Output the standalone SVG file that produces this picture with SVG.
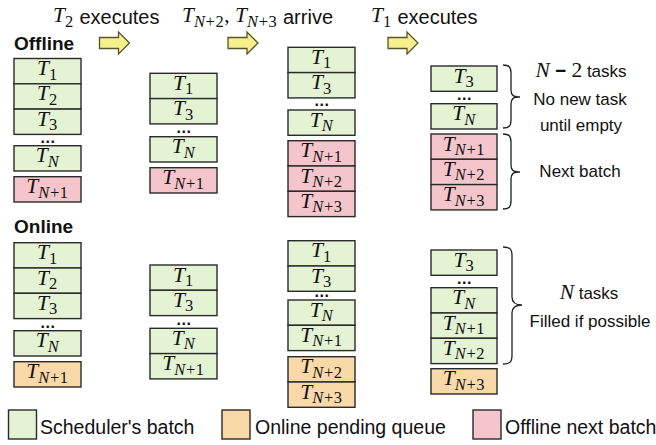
<svg xmlns="http://www.w3.org/2000/svg" width="656" height="445" viewBox="0 0 656 445">
<defs>
<style>
.b{stroke:#2a2a2a;stroke-width:1.4}
.g{fill:#e3f3d3}
.p{fill:#f4c6cc}
.o{fill:#fad9a8}
.m{font-family:"Liberation Serif","DejaVu Serif",serif;font-size:21.5px;fill:#111;text-anchor:middle}
.ml{font-family:"Liberation Serif","DejaVu Serif",serif;font-size:21.5px;fill:#111}
.i{font-style:italic}
.s{font-size:16.5px;letter-spacing:0.6px}
.d{font-family:"Liberation Sans",Arial,sans-serif;font-weight:bold;font-size:16px;letter-spacing:0.5px;fill:#111;text-anchor:middle}
.t{font-family:"Liberation Sans",Arial,sans-serif;font-size:20px;letter-spacing:0;fill:#111}
.h{font-family:"Liberation Sans",Arial,sans-serif;font-weight:bold;font-size:19px;fill:#111}
.r{font-family:"Liberation Sans",Arial,sans-serif;font-size:17px;fill:#111;text-anchor:middle}
.l{font-family:"Liberation Sans",Arial,sans-serif;font-size:19.5px;fill:#111}
.ar{fill:#f6f08c;stroke:#55552a;stroke-width:1.3}
.br{fill:none;stroke:#222;stroke-width:1.3}
</style>
</defs>

<!-- headings -->
<g id="heading-labels">
<text class="h" x="14" y="50">Offline</text>
<text class="h" x="14" y="233">Online</text>
<text class="ml" x="53" y="21.5"><tspan class="i">T</tspan><tspan class="s" dy="5">2</tspan><tspan class="t" dy="-3"> executes</tspan></text>
<text class="ml" x="182" y="21.5"><tspan class="i">T</tspan><tspan class="s" dy="5"><tspan class="i">N</tspan>+2</tspan><tspan dy="-5">, </tspan><tspan class="i">T</tspan><tspan class="s" dy="5"><tspan class="i">N</tspan>+3</tspan><tspan class="t" dy="-3"> arrive</tspan></text>
<text class="ml" x="371" y="21.5"><tspan class="i">T</tspan><tspan class="s" dy="5">1</tspan><tspan class="t" dy="-3"> executes</tspan></text>
</g>

<!-- arrows -->
<g id="step-arrows">
<path class="ar" d="M99.5,37.5 H118.5 V32 L129.5,43 L118.5,54 V48.5 H99.5 Z"/>
<path class="ar" d="M228,37.5 H247 V32 L258,43 L247,54 V48.5 H228 Z"/>
<path class="ar" d="M388,37.5 H407 V32 L418,43 L407,54 V48.5 H388 Z"/>
</g>

<!-- OFFLINE column 1 -->
<g id="off1-T1"><rect class="b g" x="14" y="58.5" width="67" height="25.3"/><text class="m" x="47.5" y="75"><tspan class="i">T</tspan><tspan class="s" dy="4.5">1</tspan></text></g>
<g id="off1-T2"><rect class="b g" x="14" y="83.8" width="67" height="25.3"/><text class="m" x="47.5" y="100.3"><tspan class="i">T</tspan><tspan class="s" dy="4.5">2</tspan></text></g>
<g id="off1-T3"><rect class="b g" x="14" y="109.1" width="67" height="25.3"/><text class="m" x="47.5" y="125.6"><tspan class="i">T</tspan><tspan class="s" dy="4.5">3</tspan></text></g>
<g id="off1-dots"><text class="d" x="48" y="142.5">...</text></g>
<g id="off1-TN"><rect class="b g" x="14" y="145.7" width="67" height="25.3"/><text class="m" x="47.5" y="162.2"><tspan class="i">T</tspan><tspan class="s i" dy="4.5">N</tspan></text></g>
<g id="off1-TN1"><rect class="b p" x="14" y="176.7" width="67" height="25.3"/><text class="m" x="47.5" y="193.2"><tspan class="i">T</tspan><tspan class="s" dy="4.5"><tspan class="i">N</tspan>+1</tspan></text></g>

<!-- OFFLINE column 2 -->
<g id="off2-T1"><rect class="b g" x="150" y="73.3" width="67" height="25.3"/><text class="m" x="183.5" y="89.8"><tspan class="i">T</tspan><tspan class="s" dy="4.5">1</tspan></text></g>
<g id="off2-T3"><rect class="b g" x="150" y="98.6" width="67" height="25.3"/><text class="m" x="183.5" y="115.1"><tspan class="i">T</tspan><tspan class="s" dy="4.5">3</tspan></text></g>
<g id="off2-dots"><text class="d" x="184" y="133">...</text></g>
<g id="off2-TN"><rect class="b g" x="150" y="136.7" width="67" height="25.3"/><text class="m" x="183.5" y="153.2"><tspan class="i">T</tspan><tspan class="s i" dy="4.5">N</tspan></text></g>
<g id="off2-TN1"><rect class="b p" x="150" y="167.7" width="67" height="25.3"/><text class="m" x="183.5" y="184.2"><tspan class="i">T</tspan><tspan class="s" dy="4.5"><tspan class="i">N</tspan>+1</tspan></text></g>

<!-- OFFLINE column 3 -->
<g id="off3-T1"><rect class="b g" x="288" y="47.3" width="67" height="25.3"/><text class="m" x="321.5" y="63.8"><tspan class="i">T</tspan><tspan class="s" dy="4.5">1</tspan></text></g>
<g id="off3-T3"><rect class="b g" x="288" y="72.6" width="67" height="25.3"/><text class="m" x="321.5" y="89.1"><tspan class="i">T</tspan><tspan class="s" dy="4.5">3</tspan></text></g>
<g id="off3-dots"><text class="d" x="322" y="105.5">...</text></g>
<g id="off3-TN"><rect class="b g" x="288" y="110" width="67" height="25.3"/><text class="m" x="321.5" y="126.5"><tspan class="i">T</tspan><tspan class="s i" dy="4.5">N</tspan></text></g>
<g id="off3-TN1"><rect class="b p" x="288" y="140.7" width="67" height="25.3"/><text class="m" x="321.5" y="157.2"><tspan class="i">T</tspan><tspan class="s" dy="4.5"><tspan class="i">N</tspan>+1</tspan></text></g>
<g id="off3-TN2"><rect class="b p" x="288" y="166" width="67" height="25.3"/><text class="m" x="321.5" y="182.5"><tspan class="i">T</tspan><tspan class="s" dy="4.5"><tspan class="i">N</tspan>+2</tspan></text></g>
<g id="off3-TN3"><rect class="b p" x="288" y="191.3" width="67" height="25.3"/><text class="m" x="321.5" y="207.8"><tspan class="i">T</tspan><tspan class="s" dy="4.5"><tspan class="i">N</tspan>+3</tspan></text></g>

<!-- OFFLINE column 4 -->
<g id="off4-T3"><rect class="b g" x="431" y="66" width="66" height="25.3"/><text class="m" x="464" y="82.5"><tspan class="i">T</tspan><tspan class="s" dy="4.5">3</tspan></text></g>
<g id="off4-dots"><text class="d" x="464.5" y="99.5">...</text></g>
<g id="off4-TN"><rect class="b g" x="431" y="103.7" width="66" height="25.3"/><text class="m" x="464" y="120.2"><tspan class="i">T</tspan><tspan class="s i" dy="4.5">N</tspan></text></g>
<g id="off4-TN1"><rect class="b p" x="431" y="134" width="66" height="25.3"/><text class="m" x="464" y="150.5"><tspan class="i">T</tspan><tspan class="s" dy="4.5"><tspan class="i">N</tspan>+1</tspan></text></g>
<g id="off4-TN2"><rect class="b p" x="431" y="159.3" width="66" height="25.3"/><text class="m" x="464" y="175.8"><tspan class="i">T</tspan><tspan class="s" dy="4.5"><tspan class="i">N</tspan>+2</tspan></text></g>
<g id="off4-TN3"><rect class="b p" x="431" y="184.6" width="66" height="25.3"/><text class="m" x="464" y="201.1"><tspan class="i">T</tspan><tspan class="s" dy="4.5"><tspan class="i">N</tspan>+3</tspan></text></g>

<!-- ONLINE column 1 -->
<g id="on1-T1"><rect class="b g" x="14" y="242.7" width="67" height="25.3"/><text class="m" x="47.5" y="259.2"><tspan class="i">T</tspan><tspan class="s" dy="4.5">1</tspan></text></g>
<g id="on1-T2"><rect class="b g" x="14" y="268" width="67" height="25.3"/><text class="m" x="47.5" y="284.5"><tspan class="i">T</tspan><tspan class="s" dy="4.5">2</tspan></text></g>
<g id="on1-T3"><rect class="b g" x="14" y="293.3" width="67" height="25.3"/><text class="m" x="47.5" y="309.8"><tspan class="i">T</tspan><tspan class="s" dy="4.5">3</tspan></text></g>
<g id="on1-dots"><text class="d" x="48" y="327.5">...</text></g>
<g id="on1-TN"><rect class="b g" x="14" y="330.7" width="67" height="25.3"/><text class="m" x="47.5" y="347.2"><tspan class="i">T</tspan><tspan class="s i" dy="4.5">N</tspan></text></g>
<g id="on1-TN1"><rect class="b o" x="14" y="361.7" width="67" height="25.3"/><text class="m" x="47.5" y="378.2"><tspan class="i">T</tspan><tspan class="s" dy="4.5"><tspan class="i">N</tspan>+1</tspan></text></g>

<!-- ONLINE column 2 -->
<g id="on2-T1"><rect class="b g" x="150" y="265" width="67" height="25.3"/><text class="m" x="183.5" y="281.5"><tspan class="i">T</tspan><tspan class="s" dy="4.5">1</tspan></text></g>
<g id="on2-T3"><rect class="b g" x="150" y="290.3" width="67" height="25.3"/><text class="m" x="183.5" y="306.8"><tspan class="i">T</tspan><tspan class="s" dy="4.5">3</tspan></text></g>
<g id="on2-dots"><text class="d" x="184" y="324.5">...</text></g>
<g id="on2-TN"><rect class="b g" x="150" y="328.3" width="67" height="25.3"/><text class="m" x="183.5" y="344.8"><tspan class="i">T</tspan><tspan class="s i" dy="4.5">N</tspan></text></g>
<g id="on2-TN1"><rect class="b g" x="150" y="353.6" width="67" height="25.3"/><text class="m" x="183.5" y="370.1"><tspan class="i">T</tspan><tspan class="s" dy="4.5"><tspan class="i">N</tspan>+1</tspan></text></g>

<!-- ONLINE column 3 -->
<g id="on3-T1"><rect class="b g" x="288" y="240.7" width="67" height="25.3"/><text class="m" x="321.5" y="257.2"><tspan class="i">T</tspan><tspan class="s" dy="4.5">1</tspan></text></g>
<g id="on3-T3"><rect class="b g" x="288" y="266" width="67" height="25.3"/><text class="m" x="321.5" y="282.5"><tspan class="i">T</tspan><tspan class="s" dy="4.5">3</tspan></text></g>
<g id="on3-dots"><text class="d" x="322" y="297.3">...</text></g>
<g id="on3-TN"><rect class="b g" x="288" y="300" width="67" height="25.3"/><text class="m" x="321.5" y="316.5"><tspan class="i">T</tspan><tspan class="s i" dy="4.5">N</tspan></text></g>
<g id="on3-TN1"><rect class="b g" x="288" y="325.3" width="67" height="25.3"/><text class="m" x="321.5" y="341.8"><tspan class="i">T</tspan><tspan class="s" dy="4.5"><tspan class="i">N</tspan>+1</tspan></text></g>
<g id="on3-TN2"><rect class="b o" x="288" y="356.7" width="67" height="25.3"/><text class="m" x="321.5" y="373.2"><tspan class="i">T</tspan><tspan class="s" dy="4.5"><tspan class="i">N</tspan>+2</tspan></text></g>
<g id="on3-TN3"><rect class="b o" x="288" y="382" width="67" height="25.3"/><text class="m" x="321.5" y="398.5"><tspan class="i">T</tspan><tspan class="s" dy="4.5"><tspan class="i">N</tspan>+3</tspan></text></g>

<!-- ONLINE column 4 -->
<g id="on4-T3"><rect class="b g" x="431" y="250" width="66" height="25.3"/><text class="m" x="464" y="266.5"><tspan class="i">T</tspan><tspan class="s" dy="4.5">3</tspan></text></g>
<g id="on4-dots"><text class="d" x="464.5" y="284">...</text></g>
<g id="on4-TN"><rect class="b g" x="431" y="287.7" width="66" height="25.3"/><text class="m" x="464" y="304.2"><tspan class="i">T</tspan><tspan class="s i" dy="4.5">N</tspan></text></g>
<g id="on4-TN1"><rect class="b g" x="431" y="313" width="66" height="25.3"/><text class="m" x="464" y="329.5"><tspan class="i">T</tspan><tspan class="s" dy="4.5"><tspan class="i">N</tspan>+1</tspan></text></g>
<g id="on4-TN2"><rect class="b g" x="431" y="338.3" width="66" height="25.3"/><text class="m" x="464" y="354.8"><tspan class="i">T</tspan><tspan class="s" dy="4.5"><tspan class="i">N</tspan>+2</tspan></text></g>
<g id="on4-TN3"><rect class="b o" x="431" y="368.7" width="66" height="25.3"/><text class="m" x="464" y="385.2"><tspan class="i">T</tspan><tspan class="s" dy="4.5"><tspan class="i">N</tspan>+3</tspan></text></g>

<!-- braces -->
<g id="braces">
<path class="br" d="M503,65 C509,65 511,67 511,73 L511,90 C511,95 513,97 520,97 C513,97 511,99 511,104 L511,120 C511,126 509,128 503,128"/>
<path class="br" d="M503,134 C509,134 511,136 511,142 L511,165 C511,170 513,172 520,172 C513,172 511,174 511,179 L511,201 C511,207 509,209 503,209"/>
<path class="br" d="M503,247 C510,247 512,249 512,256 L512,297 C512,302 515,305 522,305 C515,305 512,308 512,313 L512,355 C512,362 510,364 503,364"/>
</g>

<!-- annotations -->
<g id="notes">
<text class="r" x="581" y="77"><tspan class="ml i" font-size="21.5">N</tspan><tspan font-weight="bold" font-size="19"> − </tspan><tspan class="ml" font-size="21.5">2</tspan><tspan> tasks</tspan></text>
<text class="r" x="580" y="105">No new task</text>
<text class="r" x="581" y="131">until empty</text>
<text class="r" x="580" y="177">Next batch</text>
<text class="r" x="589" y="299"><tspan class="ml i" font-size="21.5">N</tspan><tspan> tasks</tspan></text>
<text class="r" x="590" y="327">Filled if possible</text>
</g>

<!-- legend -->
<g id="legend">
<rect class="b g" x="8.5" y="410" width="28" height="29"/>
<text class="l" x="40" y="434">Scheduler's batch</text>
<rect class="b o" x="222" y="410" width="28" height="29"/>
<text class="l" x="255" y="434">Online pending queue</text>
<rect class="b p" x="473" y="410" width="28" height="29"/>
<text class="l" x="505" y="434">Offline next batch</text>
</g>
</svg>
